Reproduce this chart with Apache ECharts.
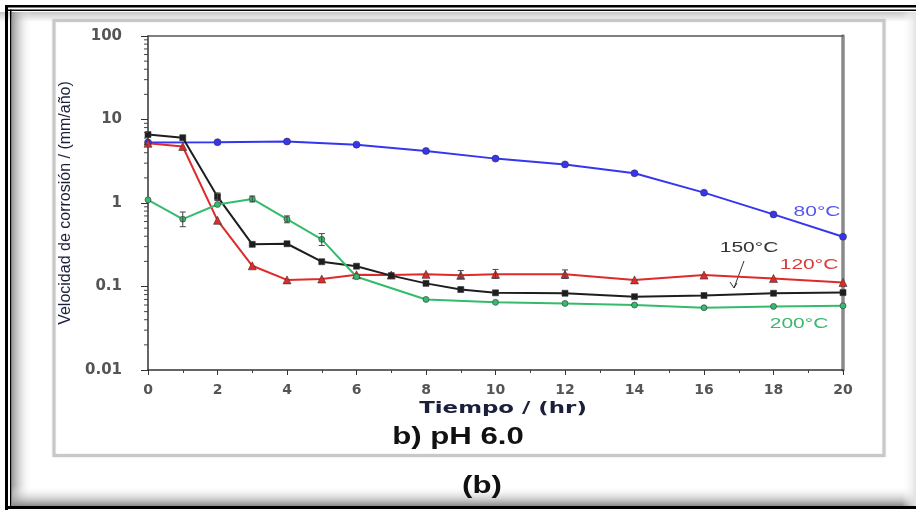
<!DOCTYPE html>
<html>
<head>
<meta charset="utf-8">
<script src="https://cdn.jsdelivr.net/npm/echarts@6/dist/echarts.min.js"></script>
<style>
  html, body { margin: 0; padding: 0; background: #fff; }
  #chart { width: 916px; height: 510px; }
</style>
</head>
<body>
<div id="chart"></div>
<script>
// tiempo (hr)
var hours80 = [0, 2, 4, 6, 8, 10, 12, 14, 16, 18, 20];
var rate80 = [5.3, 5.35, 5.45, 5.0, 4.2, 3.4, 2.9, 2.27, 1.33, 0.73, 0.395];

var hours120 = [0, 1, 2, 3, 4, 5, 6, 7, 8, 9, 10, 12, 14, 16, 18, 20];
var rate120 = [5.2, 4.75, 0.62, 0.177, 0.12, 0.123, 0.138, 0.137, 0.14, 0.136, 0.14, 0.14, 0.12, 0.137, 0.125, 0.112];

var hours150 = [0, 1, 2, 3, 4, 5, 6, 7, 8, 9, 10, 12, 14, 16, 18, 20];
var rate150 = [6.6, 6.05, 1.19, 0.32, 0.325, 0.198, 0.175, 0.135, 0.109, 0.092, 0.084, 0.083, 0.0755, 0.078, 0.083, 0.0845];

var hours200 = [0, 1, 2, 3, 4, 5, 6, 8, 10, 12, 14, 16, 18, 20];
var rate200 = [1.09, 0.64, 0.96, 1.12, 0.64, 0.367, 0.131, 0.07, 0.0646, 0.0627, 0.06, 0.0557, 0.0578, 0.0587];

// barras de error [hr, min, max]
var errBars = [
  [1, 0.52, 0.78], [3, 1.03, 1.21], [4, 0.58, 0.7], [5, 0.31, 0.43],
  [2, 1.07, 1.32], [9, 0.124, 0.155], [10, 0.125, 0.16], [12, 0.125, 0.158]
];

var yTickLabels = ['0.01', '0.1', '1', '10', '100'];
var xTickLabels = ['0', '2', '4', '6', '8', '10', '12', '14', '16', '18', '20'];
var yMinorTicks = [];
[0.01, 0.1, 1, 10].forEach(function (d) {
  for (var k = 2; k <= 9; k++) yMinorTicks.push([0, +(d * k).toPrecision(2)]);
});

var blue = '#3535f2', red = '#df2a2a', black = '#1e1e1e', green = '#35bb6c';

function pairs(xs, ys) {
  return xs.map(function (x, i) { return [x, ys[i]]; });
}

function lineSerie(name, xs, ys, color, symbol, size) {
  return {
    name: name,
    type: 'line',
    data: pairs(xs, ys),
    symbol: symbol,
    symbolSize: size,
    lineStyle: { color: color, width: 2 },
    itemStyle: { color: color, borderColor: '#333', borderWidth: 0.6 },
    z: 3
  };
}

var chart = echarts.init(document.getElementById('chart'));

var option = {
  backgroundColor: '#fff',
  animation: false,
  grid: { left: 148, top: 36, right: 73, bottom: 140 },
  xAxis: [{
    type: 'value', min: 0, max: 20, interval: 2,
    axisLine: { lineStyle: { color: '#333', width: 1.5 } },
    axisTick: { show: true, length: 5, lineStyle: { color: '#333' } },
    minorTick: { show: true, splitNumber: 2, length: 3, lineStyle: { color: '#444' } },
    splitLine: { show: false },
    axisLabel: {
      margin: 13, fontFamily: 'DejaVu Sans', fontWeight: 'bold', fontSize: 14, color: '#555',
      formatter: function (v, i) { return xTickLabels[i]; }
    }
  }, {
    type: 'value', min: 0, max: 20, position: 'top',
    axisLine: { show: true, onZero: false, lineStyle: { color: '#555', width: 1.5 } },
    axisTick: { show: false }, axisLabel: { show: false }, splitLine: { show: false }
  }],
  yAxis: [{
    type: 'log', logBase: 10, min: 0.01, max: 100,
    name: 'Velocidad de corrosión / (mm/año)',
    nameLocation: 'middle', nameGap: 73, nameRotate: 90,
    nameTextStyle: { fontFamily: 'Liberation Sans', fontSize: 16, color: '#1b1f3b' },
    axisLine: { show: true, onZero: false, lineStyle: { color: '#333', width: 1.5 } },
    axisTick: { show: true, length: 7, lineStyle: { color: '#333' } },
    splitLine: { show: false },
    axisLabel: {
      margin: 26, fontFamily: 'DejaVu Sans', fontWeight: 'bold', fontSize: 15, color: '#555',
      formatter: function (v, i) { return yTickLabels[i]; }
    }
  }, {
    type: 'log', logBase: 10, min: 0.01, max: 100, position: 'right',
    axisLine: { show: true, onZero: false, lineStyle: { color: '#8a8a8a', width: 3.5 } },
    axisTick: { show: false }, axisLabel: { show: false }, splitLine: { show: false }
  }],
  series: [
    lineSerie('80°C', hours80, rate80, blue, 'circle', 7),
    lineSerie('120°C', hours120, rate120, red, 'triangle', 8),
    lineSerie('150°C', hours150, rate150, black, 'rect', 6),
    lineSerie('200°C', hours200, rate200, green, 'circle', 6),
    {
      type: 'custom', silent: true, clip: false, z: 4,
      data: errBars,
      encode: { x: 0, y: [1, 2] },
      renderItem: function (params, api) {
        var lo = api.coord([api.value(0), api.value(1)]);
        var hi = api.coord([api.value(0), api.value(2)]);
        var st = { stroke: '#444', lineWidth: 1 };
        return {
          type: 'group',
          children: [
            { type: 'line', shape: { x1: lo[0], y1: lo[1], x2: hi[0], y2: hi[1] }, style: st },
            { type: 'line', shape: { x1: lo[0] - 3, y1: lo[1], x2: lo[0] + 3, y2: lo[1] }, style: st },
            { type: 'line', shape: { x1: hi[0] - 3, y1: hi[1], x2: hi[0] + 3, y2: hi[1] }, style: st }
          ]
        };
      }
    },
    {
      type: 'custom', silent: true, clip: false, z: 4,
      data: yMinorTicks,
      encode: { x: 0, y: 1 },
      renderItem: function (params, api) {
        var p = api.coord([api.value(0), api.value(1)]);
        return {
          type: 'line',
          shape: { x1: p[0] - 4, y1: p[1], x2: p[0], y2: p[1] },
          style: { stroke: '#444', lineWidth: 1 }
        };
      }
    }
  ],
  graphic: [
    // marco exterior
    { type: 'rect', z: -5, shape: { x: 0, y: 12, width: 916, height: 10 },
      style: { fill: new echarts.graphic.LinearGradient(0, 0, 0, 1, [{ offset: 0, color: '#c8c8c8' }, { offset: 1, color: '#fff' }]) } },
    { type: 'rect', z: -5, shape: { x: 12, y: 12, width: 20, height: 494 },
      style: { fill: new echarts.graphic.LinearGradient(0, 0, 1, 0, [{ offset: 0, color: '#9a9a9a' }, { offset: 1, color: 'rgba(255,255,255,0)' }]) } },
    { type: 'rect', z: -5, shape: { x: 12, y: 486, width: 904, height: 20 },
      style: { fill: new echarts.graphic.LinearGradient(0, 0, 0, 1, [{ offset: 0, color: 'rgba(255,255,255,0)' }, { offset: 1, color: '#8a8a8a' }]) } },
    { type: 'rect', z: -5, shape: { x: 902, y: 12, width: 14, height: 494 },
      style: { fill: new echarts.graphic.LinearGradient(0, 0, 1, 0, [{ offset: 0, color: 'rgba(255,255,255,0)' }, { offset: 1, color: '#e2e2e2' }]) } },
    { type: 'rect', shape: { x: 5, y: 5, width: 911, height: 2.5 }, style: { fill: '#000' } },
    { type: 'rect', shape: { x: 8, y: 9.5, width: 908, height: 1.5 }, style: { fill: '#000' } },
    { type: 'rect', shape: { x: 5, y: 5, width: 3, height: 505 }, style: { fill: '#000' } },
    { type: 'rect', shape: { x: 10, y: 9.5, width: 1.5, height: 497 }, style: { fill: '#000' } },
    { type: 'rect', shape: { x: 5, y: 506, width: 911, height: 3 }, style: { fill: '#000' } },
    // caja gris
    { type: 'rect', z: -4, shape: { x: 54, y: 20.5, width: 830, height: 435 },
      style: { fill: '#fff', stroke: '#c8c8c8', lineWidth: 3, shadowBlur: 2, shadowColor: 'rgba(0,0,0,0.12)' } },
    // textos
    { type: 'text', x: 503, y: 409, scaleX: 1.43,
      style: { text: 'Tiempo / (hr)', x: 0, y: 0, align: 'center', verticalAlign: 'middle',
        font: 'bold 16px "DejaVu Sans"', fill: '#1b1f3b' } },
    { type: 'text', x: 458, y: 437, scaleX: 1.3,
      style: { text: 'b) pH 6.0', x: 0, y: 0, align: 'center', verticalAlign: 'middle',
        font: 'bold 24px "Liberation Sans"', fill: '#111' } },
    { type: 'text', x: 482, y: 486, scaleX: 1.3,
      style: { text: '(b)', x: 0, y: 0, align: 'center', verticalAlign: 'middle',
        font: 'bold 24px "Liberation Sans"', fill: '#111' } },
    { type: 'text', x: 817, y: 212, scaleX: 1.4,
      style: { text: '80°C', x: 0, y: 0, align: 'center', verticalAlign: 'middle',
        font: '15px "Liberation Sans"', fill: '#5555f0' } },
    { type: 'text', x: 809, y: 265, scaleX: 1.4,
      style: { text: '120°C', x: 0, y: 0, align: 'center', verticalAlign: 'middle',
        font: '15px "Liberation Sans"', fill: '#d83a3a' } },
    { type: 'text', x: 749, y: 248, scaleX: 1.4,
      style: { text: '150°C', x: 0, y: 0, align: 'center', verticalAlign: 'middle',
        font: '15px "Liberation Sans"', fill: '#333' } },
    { type: 'text', x: 799, y: 324, scaleX: 1.4,
      style: { text: '200°C', x: 0, y: 0, align: 'center', verticalAlign: 'middle',
        font: '15px "Liberation Sans"', fill: '#3cb56e' } },
    // flecha 150°C
    { type: 'line', shape: { x1: 744, y1: 261, x2: 734, y2: 288 }, style: { stroke: '#333', lineWidth: 1 } },
    { type: 'polyline', shape: { points: [[730, 282], [734, 288], [737, 283]] }, style: { stroke: '#333', lineWidth: 1, fill: 'none' } }
  ]
};

chart.setOption(option);
</script>
</body>
</html>
